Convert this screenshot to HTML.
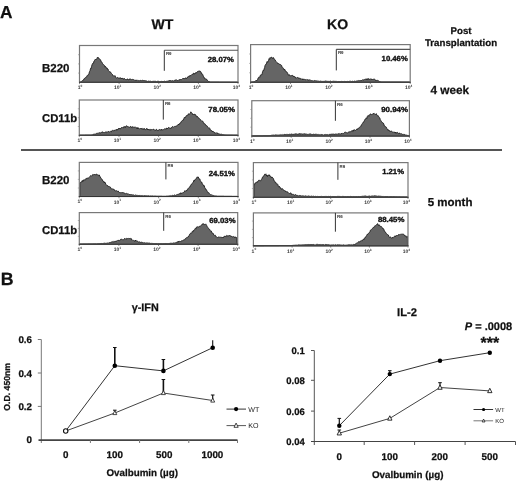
<!DOCTYPE html><html><head><meta charset="utf-8"><style>html,body{margin:0;padding:0;background:#fff;}body{width:520px;height:484px;overflow:hidden;font-family:"Liberation Sans",sans-serif;}svg{display:block;will-change:transform;}text{text-rendering:geometricPrecision;}</style></head><body><svg width="520" height="484" viewBox="0 0 520 484" font-family="Liberation Sans, sans-serif">
<rect width="520" height="484" fill="#fff"/>
<text x="0" y="18.3" font-size="17.3" font-weight="bold" text-anchor="start" fill="#111" stroke="#111" stroke-width="0.25" >A</text>
<text x="162.5" y="29" font-size="14" font-weight="bold" text-anchor="middle" fill="#111" stroke="#111" stroke-width="0.25" >WT</text>
<text x="337.6" y="29" font-size="14" font-weight="bold" text-anchor="middle" fill="#111" stroke="#111" stroke-width="0.25" >KO</text>
<text x="461" y="34.4" font-size="9.7" font-weight="bold" text-anchor="middle" fill="#111" stroke="#111" stroke-width="0.25" >Post</text>
<text x="461" y="46" font-size="9.7" font-weight="bold" text-anchor="middle" fill="#111" stroke="#111" stroke-width="0.25" >Transplantation</text>
<text x="430.4" y="94.2" font-size="11.8" font-weight="bold" text-anchor="start" fill="#111" stroke="#111" stroke-width="0.25" >4 week</text>
<text x="427.7" y="206.2" font-size="11.5" font-weight="bold" text-anchor="start" fill="#111" stroke="#111" stroke-width="0.25" >5 month</text>
<text x="42" y="71.8" font-size="11.5" font-weight="bold" text-anchor="start" fill="#111" stroke="#111" stroke-width="0.25" >B220</text>
<text x="42" y="122" font-size="11.3" font-weight="bold" text-anchor="start" fill="#111" stroke="#111" stroke-width="0.25" >CD11b</text>
<text x="42" y="184" font-size="11.5" font-weight="bold" text-anchor="start" fill="#111" stroke="#111" stroke-width="0.25" >B220</text>
<text x="42" y="234.4" font-size="11.3" font-weight="bold" text-anchor="start" fill="#111" stroke="#111" stroke-width="0.25" >CD11b</text>
<line x1="21" y1="150" x2="502" y2="150" stroke="#555" stroke-width="2"/>
<path d="M80.0,82.3L80.0,82.2L80.5,82.1L81.0,81.9L81.5,81.3L82.0,81.1L82.5,80.7L83.0,80.0L83.5,79.9L84.0,78.7L84.5,78.8L85.0,77.9L85.5,77.4L86.0,77.2L86.5,77.2L87.0,75.8L87.5,75.2L88.0,74.9L88.5,74.8L89.0,73.4L89.5,71.6L90.0,70.9L90.5,68.5L91.0,68.8L91.5,66.6L92.0,64.9L92.5,63.6L93.0,63.1L93.5,63.1L94.0,61.1L94.5,60.5L95.0,59.7L95.5,59.0L96.0,59.8L96.5,59.4L97.0,58.3L97.5,57.1L98.0,57.7L98.5,57.8L99.0,58.2L99.5,59.3L100.0,59.5L100.5,59.7L101.0,61.2L101.5,62.0L102.0,62.2L102.5,63.5L103.0,63.9L103.5,64.9L104.0,65.3L104.5,65.4L105.0,67.1L105.5,66.4L106.0,67.2L106.5,68.2L107.0,67.8L107.5,69.0L108.0,69.0L108.5,70.7L109.0,71.4L109.5,71.6L110.0,72.3L110.5,71.9L111.0,73.0L111.5,73.5L112.0,74.1L112.5,74.5L113.0,75.6L113.5,76.1L114.0,75.6L114.5,76.2L115.0,75.7L115.5,77.1L116.0,77.4L116.5,78.1L117.0,78.0L117.5,77.4L118.0,77.8L118.5,78.4L119.0,77.6L119.5,78.4L120.0,78.0L120.5,77.9L121.0,77.9L121.5,79.0L122.0,78.1L122.5,78.4L123.0,78.6L123.5,79.4L124.0,78.2L124.5,78.8L125.0,79.0L125.5,79.6L126.0,79.6L126.5,79.7L127.0,78.9L127.5,79.1L128.0,79.1L128.5,79.9L129.0,80.0L129.5,78.9L130.0,79.0L130.5,79.1L131.0,79.2L131.5,79.6L132.0,79.8L132.5,79.4L133.0,79.1L133.5,79.7L134.0,79.7L134.5,80.0L135.0,80.5L135.5,80.3L136.0,80.2L136.5,80.3L137.0,80.4L137.5,79.9L138.0,80.7L138.5,80.7L139.0,80.8L139.5,80.7L140.0,80.4L140.5,80.4L141.0,80.2L141.5,80.7L142.0,80.3L142.5,80.3L143.0,80.5L143.5,80.5L144.0,80.7L144.5,80.6L145.0,80.6L145.5,80.8L146.0,80.8L146.5,81.0L147.0,80.9L147.5,81.4L148.0,81.3L148.5,81.1L149.0,81.2L149.5,81.3L150.0,81.3L150.5,81.2L151.0,81.6L151.5,81.6L152.0,81.4L152.5,81.4L153.0,81.2L153.5,81.3L154.0,81.4L154.5,81.3L155.0,81.6L155.5,81.3L156.0,81.3L156.5,81.7L157.0,81.5L157.5,81.3L158.0,81.5L158.5,81.3L159.0,81.5L159.5,81.7L160.0,81.6L160.5,81.6L161.0,81.4L161.5,81.4L162.0,81.3L162.5,81.5L163.0,81.4L163.5,81.5L164.0,81.2L164.5,81.2L165.0,81.5L165.5,81.5L166.0,81.4L166.5,81.3L167.0,81.3L167.5,81.2L168.0,80.8L168.5,80.9L169.0,80.8L169.5,80.5L170.0,80.4L170.5,80.6L171.0,80.6L171.5,80.9L172.0,81.0L172.5,80.6L173.0,80.9L173.5,81.0L174.0,80.9L174.5,80.3L175.0,80.1L175.5,80.0L176.0,80.0L176.5,79.9L177.0,80.3L177.5,80.6L178.0,80.5L178.5,80.0L179.0,80.1L179.5,80.1L180.0,79.1L180.5,79.7L181.0,79.9L181.5,79.6L182.0,79.4L182.5,78.8L183.0,78.2L183.5,79.0L184.0,78.2L184.5,78.7L185.0,78.9L185.5,77.9L186.0,77.8L186.5,78.6L187.0,78.1L187.5,77.0L188.0,76.6L188.5,76.3L189.0,77.1L189.5,76.5L190.0,75.2L190.5,75.8L191.0,75.7L191.5,75.0L192.0,74.3L192.5,74.4L193.0,73.6L193.5,73.2L194.0,74.3L194.5,73.5L195.0,73.0L195.5,73.3L196.0,72.3L196.5,72.8L197.0,72.6L197.5,71.5L198.0,71.3L198.5,71.2L199.0,70.9L199.5,71.2L200.0,70.8L200.5,71.6L201.0,71.9L201.5,73.8L202.0,73.5L202.5,74.2L203.0,75.2L203.5,76.7L204.0,76.9L204.5,78.6L205.0,78.5L205.5,78.8L206.0,79.2L206.5,79.1L207.0,80.2L207.5,80.4L208.0,80.8L208.5,81.5L209.0,81.3L209.5,81.7L210.0,81.9L210.5,82.1L211.0,82.1L211.5,82.1L212.0,82.1L212.5,82.1L213.0,82.1L213.5,82.1L214.0,82.1L214.5,82.1L215.0,82.1L215.5,82.1L216.0,82.1L216.5,82.1L217.0,82.1L217.5,82.1L218.0,82.1L218.5,82.1L219.0,82.2L219.5,82.2L220.0,82.2L220.5,82.2L221.0,82.2L221.5,82.2L222.0,82.2L222.5,82.2L223.0,82.2L223.5,82.2L224.0,82.2L224.5,82.2L225.0,82.2L225.5,82.2L226.0,82.2L226.5,82.2L227.0,82.2L227.5,82.2L228.0,82.2L228.5,82.2L229.0,82.2L229.5,82.2L230.0,82.3L230.5,82.3L231.0,82.3L231.5,82.3L232.0,82.3L232.5,82.3L233.0,82.3L233.5,82.3L234.0,82.3L234.5,82.3L235.0,82.3L235.5,82.3L236.0,82.3L236.5,82.3L237.0,82.3L237.5,82.3L237.5,82.3Z" fill="#656565" stroke="#151515" stroke-width="0.85" stroke-linejoin="round"/>
<rect x="79.5" y="45.5" width="158.5" height="36.8" fill="none" stroke="#787878" stroke-width="1.2"/>
<line x1="79.0" y1="82.3" x2="238.5" y2="82.3" stroke="#333" stroke-width="1.1"/>
<line x1="78.0" y1="73.1" x2="79.5" y2="73.1" stroke="#888" stroke-width="0.6"/>
<line x1="78.0" y1="63.9" x2="79.5" y2="63.9" stroke="#888" stroke-width="0.6"/>
<line x1="78.0" y1="54.7" x2="79.5" y2="54.7" stroke="#888" stroke-width="0.6"/>
<line x1="79.5" y1="82.3" x2="79.5" y2="84.1" stroke="#444" stroke-width="0.6"/>
<text x="77.7" y="89.1" font-size="5" font-weight="bold" fill="#3a3a3a">1<tspan font-size="3.2" dy="-2.2">0</tspan></text>
<line x1="119.1" y1="82.3" x2="119.1" y2="84.1" stroke="#444" stroke-width="0.6"/>
<text x="113.9" y="89.3" font-size="5" font-weight="bold" fill="#3a3a3a">10<tspan font-size="3.2" dy="-2.2">1</tspan></text>
<line x1="158.8" y1="82.3" x2="158.8" y2="84.1" stroke="#444" stroke-width="0.6"/>
<text x="153.6" y="89.3" font-size="5" font-weight="bold" fill="#3a3a3a">10<tspan font-size="3.2" dy="-2.2">2</tspan></text>
<line x1="198.4" y1="82.3" x2="198.4" y2="84.1" stroke="#444" stroke-width="0.6"/>
<text x="193.2" y="89.3" font-size="5" font-weight="bold" fill="#3a3a3a">10<tspan font-size="3.2" dy="-2.2">3</tspan></text>
<line x1="238.0" y1="82.3" x2="238.0" y2="84.1" stroke="#444" stroke-width="0.6"/>
<text x="232.8" y="89.3" font-size="5" font-weight="bold" fill="#3a3a3a">10<tspan font-size="3.2" dy="-2.2">4</tspan></text>
<line x1="164.3" y1="50.3" x2="238" y2="50.3" stroke="#555" stroke-width="1.1"/>
<line x1="164.3" y1="70.8" x2="164.3" y2="50.3" stroke="#333" stroke-width="1"/>
<text x="165.9" y="55.3" font-size="4.4" font-weight="bold" fill="#333">R9</text>
<text x="234" y="62.1" font-size="7.4" font-weight="bold" fill="#111" stroke="#111" stroke-width="0.35" text-anchor="end" textLength="26.3" lengthAdjust="spacingAndGlyphs">28.07%</text>
<path d="M251.1,82.2L251.1,82.1L251.6,82.0L252.1,82.0L252.6,81.9L253.1,81.9L253.6,81.8L254.1,81.6L254.6,81.6L255.1,81.5L255.6,81.0L256.1,80.1L256.6,80.6L257.1,80.1L257.6,79.9L258.1,77.9L258.6,77.6L259.1,76.9L259.6,77.4L260.1,75.9L260.6,74.9L261.1,74.7L261.6,75.0L262.1,73.9L262.6,71.7L263.1,70.3L263.6,70.7L264.1,69.0L264.6,67.6L265.1,65.3L265.6,64.5L266.1,64.5L266.6,63.0L267.1,61.6L267.6,62.3L268.1,61.0L268.6,60.3L269.1,58.6L269.6,59.4L270.1,57.6L270.6,58.2L271.1,57.2L271.6,57.1L272.1,57.6L272.6,58.5L273.1,57.7L273.6,57.7L274.1,59.1L274.6,59.3L275.1,59.9L275.6,61.0L276.1,61.4L276.6,61.9L277.1,62.6L277.6,63.0L278.1,63.9L278.6,63.5L279.1,64.2L279.6,64.1L280.1,64.8L280.6,64.6L281.1,65.2L281.6,65.4L282.1,67.2L282.6,67.7L283.1,67.8L283.6,68.6L284.1,69.7L284.6,69.0L285.1,70.7L285.6,70.7L286.1,71.3L286.6,72.2L287.1,72.2L287.6,73.2L288.1,74.4L288.6,75.3L289.1,74.5L289.6,75.6L290.1,75.7L290.6,75.7L291.1,75.5L291.6,75.6L292.1,75.3L292.6,75.5L293.1,75.7L293.6,77.0L294.1,76.5L294.6,76.7L295.1,76.8L295.6,78.0L296.1,78.1L296.6,77.9L297.1,77.4L297.6,77.5L298.1,77.7L298.6,78.1L299.1,77.8L299.6,78.3L300.1,78.1L300.6,79.2L301.1,79.4L301.6,78.9L302.1,78.6L302.6,79.9L303.1,79.1L303.6,79.3L304.1,78.9L304.6,79.5L305.1,79.6L305.6,79.7L306.1,79.4L306.6,79.9L307.1,79.4L307.6,79.8L308.1,79.7L308.6,80.1L309.1,79.8L309.6,79.9L310.1,80.2L310.6,80.2L311.1,80.6L311.6,80.6L312.1,80.8L312.6,80.7L313.1,80.8L313.6,81.0L314.1,80.6L314.6,80.6L315.1,81.1L315.6,80.6L316.1,81.0L316.6,81.0L317.1,80.6L317.6,81.2L318.1,81.2L318.6,81.1L319.1,81.2L319.6,81.3L320.1,80.9L320.6,81.2L321.1,81.2L321.6,81.4L322.1,81.4L322.6,81.4L323.1,81.3L323.6,81.4L324.1,81.3L324.6,81.3L325.1,81.1L325.6,81.0L326.1,81.1L326.6,81.2L327.1,81.1L327.6,81.4L328.1,81.3L328.6,81.4L329.1,81.4L329.6,81.4L330.1,81.3L330.6,81.1L331.1,81.5L331.6,81.5L332.1,81.4L332.6,81.4L333.1,81.5L333.6,81.2L334.1,81.5L334.6,81.3L335.1,81.3L335.6,81.4L336.1,81.5L336.6,81.4L337.1,81.6L337.6,81.7L338.1,81.5L338.6,81.5L339.1,81.5L339.6,81.6L340.1,81.6L340.6,81.6L341.1,81.6L341.6,81.4L342.1,81.5L342.6,81.5L343.1,81.7L343.6,81.5L344.1,81.6L344.6,81.4L345.1,81.5L345.6,81.5L346.1,81.6L346.6,81.6L347.1,81.6L347.6,81.4L348.1,81.5L348.6,81.5L349.1,81.4L349.6,81.3L350.1,81.6L350.6,81.2L351.1,81.5L351.6,81.5L352.1,81.1L352.6,81.3L353.1,81.4L353.6,81.5L354.1,81.2L354.6,81.1L355.1,81.0L355.6,81.4L356.1,80.9L356.6,81.1L357.1,80.8L357.6,80.9L358.1,81.1L358.6,80.5L359.1,80.9L359.6,80.6L360.1,80.8L360.6,80.6L361.1,80.1L361.6,80.7L362.1,80.3L362.6,79.7L363.1,79.6L363.6,80.0L364.1,79.8L364.6,79.4L365.1,79.1L365.6,79.2L366.1,79.1L366.6,79.8L367.1,78.5L367.6,79.6L368.1,79.6L368.6,78.5L369.1,79.6L369.6,79.4L370.1,79.7L370.6,78.8L371.1,79.0L371.6,79.0L372.1,80.0L372.6,79.4L373.1,79.1L373.6,79.3L374.1,79.3L374.6,79.2L375.1,79.5L375.6,80.5L376.1,80.1L376.6,80.8L377.1,80.3L377.6,80.4L378.1,80.8L378.6,80.8L379.1,81.1L379.6,81.6L380.1,81.7L380.6,81.8L381.1,81.9L381.6,82.0L382.1,82.0L382.6,82.0L383.1,82.0L383.6,82.0L384.1,82.0L384.6,82.0L385.1,82.0L385.6,82.0L386.1,82.0L386.6,82.0L387.1,82.0L387.6,82.0L388.1,82.0L388.6,82.0L389.1,82.0L389.6,82.0L390.1,82.1L390.6,82.1L391.1,82.1L391.6,82.1L392.1,82.1L392.6,82.1L393.1,82.1L393.6,82.1L394.1,82.1L394.6,82.1L395.1,82.1L395.6,82.1L396.1,82.1L396.6,82.1L397.1,82.1L397.6,82.1L398.1,82.1L398.6,82.1L399.1,82.1L399.6,82.1L400.1,82.1L400.6,82.1L401.1,82.1L401.6,82.2L402.1,82.2L402.6,82.2L403.1,82.2L403.6,82.2L404.1,82.2L404.6,82.2L405.1,82.2L405.6,82.2L406.1,82.2L406.6,82.2L407.1,82.2L407.6,82.2L408.1,82.2L408.6,82.2L409.1,82.2L409.6,82.2L409.7,82.2Z" fill="#656565" stroke="#151515" stroke-width="0.85" stroke-linejoin="round"/>
<rect x="250.6" y="44.6" width="159.6" height="37.6" fill="none" stroke="#787878" stroke-width="1.2"/>
<line x1="250.1" y1="82.2" x2="410.7" y2="82.2" stroke="#333" stroke-width="1.1"/>
<line x1="249.1" y1="72.8" x2="250.6" y2="72.8" stroke="#888" stroke-width="0.6"/>
<line x1="249.1" y1="63.4" x2="250.6" y2="63.4" stroke="#888" stroke-width="0.6"/>
<line x1="249.1" y1="54.0" x2="250.6" y2="54.0" stroke="#888" stroke-width="0.6"/>
<line x1="250.6" y1="82.2" x2="250.6" y2="84.0" stroke="#444" stroke-width="0.6"/>
<text x="248.8" y="89.0" font-size="5" font-weight="bold" fill="#3a3a3a">1<tspan font-size="3.2" dy="-2.2">0</tspan></text>
<line x1="290.5" y1="82.2" x2="290.5" y2="84.0" stroke="#444" stroke-width="0.6"/>
<text x="285.3" y="89.2" font-size="5" font-weight="bold" fill="#3a3a3a">10<tspan font-size="3.2" dy="-2.2">1</tspan></text>
<line x1="330.4" y1="82.2" x2="330.4" y2="84.0" stroke="#444" stroke-width="0.6"/>
<text x="325.2" y="89.2" font-size="5" font-weight="bold" fill="#3a3a3a">10<tspan font-size="3.2" dy="-2.2">2</tspan></text>
<line x1="370.3" y1="82.2" x2="370.3" y2="84.0" stroke="#444" stroke-width="0.6"/>
<text x="365.1" y="89.2" font-size="5" font-weight="bold" fill="#3a3a3a">10<tspan font-size="3.2" dy="-2.2">3</tspan></text>
<line x1="410.2" y1="82.2" x2="410.2" y2="84.0" stroke="#444" stroke-width="0.6"/>
<text x="405.0" y="89.2" font-size="5" font-weight="bold" fill="#3a3a3a">10<tspan font-size="3.2" dy="-2.2">4</tspan></text>
<line x1="336.3" y1="49.4" x2="410.2" y2="49.4" stroke="#555" stroke-width="1.1"/>
<line x1="336.3" y1="70.4" x2="336.3" y2="49.4" stroke="#333" stroke-width="1"/>
<text x="337.9" y="54.4" font-size="4.4" font-weight="bold" fill="#333">R9</text>
<text x="407.8" y="61.4" font-size="7.4" font-weight="bold" fill="#111" stroke="#111" stroke-width="0.35" text-anchor="end" textLength="26.2" lengthAdjust="spacingAndGlyphs">10.46%</text>
<path d="M79.8,135.3L79.8,135.3L80.3,135.3L80.8,135.3L81.3,135.3L81.8,135.3L82.3,135.3L82.8,135.3L83.3,135.3L83.8,135.3L84.3,135.3L84.8,135.3L85.3,135.2L85.8,135.2L86.3,135.2L86.8,135.2L87.3,135.2L87.8,135.2L88.3,135.2L88.8,135.2L89.3,135.2L89.8,135.2L90.3,135.2L90.8,135.2L91.3,135.1L91.8,135.0L92.3,134.9L92.8,134.7L93.3,134.5L93.8,134.1L94.3,134.3L94.8,133.8L95.3,134.2L95.8,133.9L96.3,133.6L96.8,133.2L97.3,133.2L97.8,133.4L98.3,133.4L98.8,132.7L99.3,132.6L99.8,133.0L100.3,133.0L100.8,132.6L101.3,132.3L101.8,132.7L102.3,131.8L102.8,132.1L103.3,132.3L103.8,133.0L104.3,132.5L104.8,132.8L105.3,132.2L105.8,131.8L106.3,131.7L106.8,132.7L107.3,132.3L107.8,131.7L108.3,131.2L108.8,131.9L109.3,132.1L109.8,131.6L110.3,131.2L110.8,131.7L111.3,131.9L111.8,130.7L112.3,130.3L112.8,130.7L113.3,130.7L113.8,130.9L114.3,129.9L114.8,130.6L115.3,130.3L115.8,129.8L116.3,129.3L116.8,130.3L117.3,129.2L117.8,129.7L118.3,128.6L118.8,128.4L119.3,129.0L119.8,128.2L120.3,129.1L120.8,128.3L121.3,127.6L121.8,127.5L122.3,127.5L122.8,127.7L123.3,127.9L123.8,126.6L124.3,126.9L124.8,126.5L125.3,127.6L125.8,126.2L126.3,125.9L126.8,125.8L127.3,126.2L127.8,126.9L128.3,126.9L128.8,126.8L129.3,127.2L129.8,127.3L130.3,126.5L130.8,126.4L131.3,127.6L131.8,127.5L132.3,126.5L132.8,127.6L133.3,127.2L133.8,127.3L134.3,127.3L134.8,127.1L135.3,126.9L135.8,127.4L136.3,127.6L136.8,128.6L137.3,127.5L137.8,128.9L138.3,127.8L138.8,128.2L139.3,128.9L139.8,129.0L140.3,128.5L140.8,128.0L141.3,128.6L141.8,128.5L142.3,129.4L142.8,128.4L143.3,128.7L143.8,129.6L144.3,128.4L144.8,129.0L145.3,129.7L145.8,129.7L146.3,128.6L146.8,128.6L147.3,128.7L147.8,130.0L148.3,129.1L148.8,129.8L149.3,130.1L149.8,129.3L150.3,129.3L150.8,130.3L151.3,129.8L151.8,129.3L152.3,130.0L152.8,129.5L153.3,129.4L153.8,129.0L154.3,130.2L154.8,130.5L155.3,130.1L155.8,130.6L156.3,129.2L156.8,129.6L157.3,130.0L157.8,130.7L158.3,130.6L158.8,129.7L159.3,129.5L159.8,129.7L160.3,129.7L160.8,130.3L161.3,129.1L161.8,129.9L162.3,129.8L162.8,129.8L163.3,129.7L163.8,129.4L164.3,128.9L164.8,128.8L165.3,128.8L165.8,129.3L166.3,128.1L166.8,128.1L167.3,128.8L167.8,128.0L168.3,127.6L168.8,127.5L169.3,128.2L169.8,127.7L170.3,128.6L170.8,128.3L171.3,128.3L171.8,127.1L172.3,126.7L172.8,126.5L173.3,127.0L173.8,127.2L174.3,126.7L174.8,126.3L175.3,126.3L175.8,126.3L176.3,126.0L176.8,125.8L177.3,125.7L177.8,125.1L178.3,124.1L178.8,124.9L179.3,123.7L179.8,123.6L180.3,122.7L180.8,122.7L181.3,121.4L181.8,121.1L182.3,120.7L182.8,120.0L183.3,120.2L183.8,118.8L184.3,117.6L184.8,117.0L185.3,117.6L185.8,116.5L186.3,115.6L186.8,115.9L187.3,115.2L187.8,115.4L188.3,113.8L188.8,114.0L189.3,114.1L189.8,113.7L190.3,113.4L190.8,111.8L191.3,112.5L191.8,112.8L192.3,113.4L192.8,114.8L193.3,114.2L193.8,114.7L194.3,113.9L194.8,114.8L195.3,114.6L195.8,114.9L196.3,116.3L196.8,117.1L197.3,116.3L197.8,117.3L198.3,117.8L198.8,117.8L199.3,118.7L199.8,118.9L200.3,119.4L200.8,119.8L201.3,120.8L201.8,121.4L202.3,121.1L202.8,121.2L203.3,122.2L203.8,123.5L204.3,123.4L204.8,124.1L205.3,124.2L205.8,125.5L206.3,125.7L206.8,125.6L207.3,126.2L207.8,127.2L208.3,127.8L208.8,128.2L209.3,127.8L209.8,128.5L210.3,130.0L210.8,130.1L211.3,130.4L211.8,130.6L212.3,131.8L212.8,131.1L213.3,131.8L213.8,131.8L214.3,132.2L214.8,133.1L215.3,133.4L215.8,132.7L216.3,132.7L216.8,133.4L217.3,133.1L217.8,133.1L218.3,134.0L218.8,133.8L219.3,134.1L219.8,133.9L220.3,134.3L220.8,134.2L221.3,134.2L221.8,134.3L222.3,134.6L222.8,134.7L223.3,134.8L223.8,134.7L224.3,134.9L224.8,134.9L225.3,135.0L225.8,135.1L226.3,135.1L226.8,135.2L227.3,135.2L227.8,135.2L228.3,135.2L228.8,135.2L229.3,135.2L229.8,135.2L230.3,135.2L230.8,135.2L231.3,135.2L231.8,135.2L232.3,135.2L232.8,135.3L233.3,135.3L233.8,135.3L234.3,135.3L234.8,135.3L235.3,135.3L235.8,135.3L236.3,135.3L236.8,135.3L237.3,135.3L237.5,135.3Z" fill="#656565" stroke="#151515" stroke-width="0.85" stroke-linejoin="round"/>
<rect x="79.3" y="100" width="158.7" height="35.30000000000001" fill="none" stroke="#787878" stroke-width="1.2"/>
<line x1="78.8" y1="135.3" x2="238.5" y2="135.3" stroke="#333" stroke-width="1.1"/>
<line x1="77.8" y1="126.5" x2="79.3" y2="126.5" stroke="#888" stroke-width="0.6"/>
<line x1="77.8" y1="117.7" x2="79.3" y2="117.7" stroke="#888" stroke-width="0.6"/>
<line x1="77.8" y1="108.8" x2="79.3" y2="108.8" stroke="#888" stroke-width="0.6"/>
<line x1="79.3" y1="135.3" x2="79.3" y2="137.10000000000002" stroke="#444" stroke-width="0.6"/>
<text x="77.5" y="142.1" font-size="5" font-weight="bold" fill="#3a3a3a">1<tspan font-size="3.2" dy="-2.2">0</tspan></text>
<line x1="119.0" y1="135.3" x2="119.0" y2="137.10000000000002" stroke="#444" stroke-width="0.6"/>
<text x="113.8" y="142.3" font-size="5" font-weight="bold" fill="#3a3a3a">10<tspan font-size="3.2" dy="-2.2">1</tspan></text>
<line x1="158.6" y1="135.3" x2="158.6" y2="137.10000000000002" stroke="#444" stroke-width="0.6"/>
<text x="153.4" y="142.3" font-size="5" font-weight="bold" fill="#3a3a3a">10<tspan font-size="3.2" dy="-2.2">2</tspan></text>
<line x1="198.3" y1="135.3" x2="198.3" y2="137.10000000000002" stroke="#444" stroke-width="0.6"/>
<text x="193.1" y="142.3" font-size="5" font-weight="bold" fill="#3a3a3a">10<tspan font-size="3.2" dy="-2.2">3</tspan></text>
<line x1="238.0" y1="135.3" x2="238.0" y2="137.10000000000002" stroke="#444" stroke-width="0.6"/>
<text x="232.8" y="142.3" font-size="5" font-weight="bold" fill="#3a3a3a">10<tspan font-size="3.2" dy="-2.2">4</tspan></text>
<line x1="163.3" y1="119.6" x2="163.3" y2="100" stroke="#333" stroke-width="1"/>
<text x="164.9" y="105.0" font-size="4.4" font-weight="bold" fill="#333">R6</text>
<text x="235" y="112" font-size="7.4" font-weight="bold" fill="#111" stroke="#111" stroke-width="0.35" text-anchor="end" textLength="26.7" lengthAdjust="spacingAndGlyphs">78.05%</text>
<path d="M252.3,136.0L252.3,136.0L252.8,136.0L253.3,136.0L253.8,136.0L254.3,136.0L254.8,136.0L255.3,136.0L255.8,136.0L256.3,136.0L256.8,135.9L257.3,135.9L257.8,135.9L258.3,135.9L258.8,135.9L259.3,135.9L259.8,135.9L260.3,135.9L260.8,135.9L261.3,135.9L261.8,135.9L262.3,135.9L262.8,135.9L263.3,135.8L263.8,135.8L264.3,135.8L264.8,135.8L265.3,135.8L265.8,135.8L266.3,135.8L266.8,135.8L267.3,135.8L267.8,135.8L268.3,135.8L268.8,135.7L269.3,135.7L269.8,135.6L270.3,135.5L270.8,135.5L271.3,135.3L271.8,135.3L272.3,135.3L272.8,135.0L273.3,135.2L273.8,134.9L274.3,135.2L274.8,135.1L275.3,135.0L275.8,134.8L276.3,135.0L276.8,134.9L277.3,135.2L277.8,134.7L278.3,135.1L278.8,135.2L279.3,135.0L279.8,135.0L280.3,134.6L280.8,135.1L281.3,134.8L281.8,135.0L282.3,135.0L282.8,134.5L283.3,134.9L283.8,134.9L284.3,134.3L284.8,134.5L285.3,134.7L285.8,134.3L286.3,134.8L286.8,134.3L287.3,134.7L287.8,134.2L288.3,134.4L288.8,134.8L289.3,134.2L289.8,134.2L290.3,134.4L290.8,134.2L291.3,134.0L291.8,134.1L292.3,134.0L292.8,134.6L293.3,134.4L293.8,134.5L294.3,133.8L294.8,134.4L295.3,133.7L295.8,134.1L296.3,134.1L296.8,133.8L297.3,134.3L297.8,134.0L298.3,134.0L298.8,134.3L299.3,133.4L299.8,134.3L300.3,134.0L300.8,133.7L301.3,134.2L301.8,133.6L302.3,134.4L302.8,134.0L303.3,133.8L303.8,134.2L304.3,133.9L304.8,133.7L305.3,134.3L305.8,133.7L306.3,134.4L306.8,133.9L307.3,134.3L307.8,134.6L308.3,134.3L308.8,134.4L309.3,134.1L309.8,133.9L310.3,133.9L310.8,134.0L311.3,134.4L311.8,134.3L312.3,134.4L312.8,134.7L313.3,134.1L313.8,134.2L314.3,134.6L314.8,134.1L315.3,134.1L315.8,134.4L316.3,134.2L316.8,134.5L317.3,134.4L317.8,134.7L318.3,134.7L318.8,134.4L319.3,134.8L319.8,134.7L320.3,134.5L320.8,135.0L321.3,134.6L321.8,134.5L322.3,134.5L322.8,134.9L323.3,135.0L323.8,135.0L324.3,134.7L324.8,134.6L325.3,134.4L325.8,134.8L326.3,134.7L326.8,134.6L327.3,134.7L327.8,134.6L328.3,134.9L328.8,134.7L329.3,134.3L329.8,134.8L330.3,134.1L330.8,134.4L331.3,134.3L331.8,134.1L332.3,133.9L332.8,134.5L333.3,133.8L333.8,134.3L334.3,134.6L334.8,133.9L335.3,133.9L335.8,134.3L336.3,134.1L336.8,134.2L337.3,134.4L337.8,133.7L338.3,133.8L338.8,133.8L339.3,133.5L339.8,134.3L340.3,134.2L340.8,134.0L341.3,133.2L341.8,134.0L342.3,133.8L342.8,133.3L343.3,133.6L343.8,133.1L344.3,132.6L344.8,132.3L345.3,132.4L345.8,132.0L346.3,132.4L346.8,133.0L347.3,132.8L347.8,132.9L348.3,132.6L348.8,131.7L349.3,132.0L349.8,131.6L350.3,132.0L350.8,131.4L351.3,130.8L351.8,131.2L352.3,131.5L352.8,130.3L353.3,131.2L353.8,129.8L354.3,130.0L354.8,129.8L355.3,130.3L355.8,130.3L356.3,129.8L356.8,128.9L357.3,129.6L357.8,128.6L358.3,128.0L358.8,128.4L359.3,127.4L359.8,127.0L360.3,126.7L360.8,126.5L361.3,124.9L361.8,124.5L362.3,123.5L362.8,123.1L363.3,122.1L363.8,121.8L364.3,120.8L364.8,119.7L365.3,118.9L365.8,119.1L366.3,117.8L366.8,118.4L367.3,116.5L367.8,115.7L368.3,115.4L368.8,116.4L369.3,115.2L369.8,114.5L370.3,114.0L370.8,113.8L371.3,114.7L371.8,114.5L372.3,114.4L372.8,114.4L373.3,113.2L373.8,113.9L374.3,113.5L374.8,114.3L375.3,114.4L375.8,114.7L376.3,113.6L376.8,114.9L377.3,115.3L377.8,116.1L378.3,115.8L378.8,116.9L379.3,117.5L379.8,117.9L380.3,119.7L380.8,120.5L381.3,121.2L381.8,122.3L382.3,122.6L382.8,122.6L383.3,123.1L383.8,124.0L384.3,125.9L384.8,125.8L385.3,126.4L385.8,127.1L386.3,127.2L386.8,128.4L387.3,129.1L387.8,130.2L388.3,129.8L388.8,130.0L389.3,131.1L389.8,130.7L390.3,131.5L390.8,131.4L391.3,130.8L391.8,131.6L392.3,131.8L392.8,132.3L393.3,131.8L393.8,132.4L394.3,132.3L394.8,132.0L395.3,133.1L395.8,132.1L396.3,133.3L396.8,132.5L397.3,132.3L397.8,132.8L398.3,133.6L398.8,134.0L399.3,132.8L399.8,133.5L400.3,133.6L400.8,134.1L401.3,133.6L401.8,134.1L402.3,134.1L402.8,134.6L403.3,134.3L403.8,134.9L404.3,134.5L404.8,134.5L405.3,135.0L405.8,135.0L406.3,135.0L406.8,135.3L407.3,135.3L407.8,135.6L408.3,135.7L408.8,135.8L408.9,136.0Z" fill="#656565" stroke="#151515" stroke-width="0.85" stroke-linejoin="round"/>
<rect x="251.8" y="100.7" width="157.59999999999997" height="35.3" fill="none" stroke="#787878" stroke-width="1.2"/>
<line x1="251.3" y1="136" x2="409.9" y2="136" stroke="#333" stroke-width="1.1"/>
<line x1="250.3" y1="127.2" x2="251.8" y2="127.2" stroke="#888" stroke-width="0.6"/>
<line x1="250.3" y1="118.3" x2="251.8" y2="118.3" stroke="#888" stroke-width="0.6"/>
<line x1="250.3" y1="109.5" x2="251.8" y2="109.5" stroke="#888" stroke-width="0.6"/>
<line x1="251.8" y1="136" x2="251.8" y2="137.8" stroke="#444" stroke-width="0.6"/>
<text x="250.0" y="142.8" font-size="5" font-weight="bold" fill="#3a3a3a">1<tspan font-size="3.2" dy="-2.2">0</tspan></text>
<line x1="291.2" y1="136" x2="291.2" y2="137.8" stroke="#444" stroke-width="0.6"/>
<text x="286.0" y="143.0" font-size="5" font-weight="bold" fill="#3a3a3a">10<tspan font-size="3.2" dy="-2.2">1</tspan></text>
<line x1="330.6" y1="136" x2="330.6" y2="137.8" stroke="#444" stroke-width="0.6"/>
<text x="325.4" y="143.0" font-size="5" font-weight="bold" fill="#3a3a3a">10<tspan font-size="3.2" dy="-2.2">2</tspan></text>
<line x1="370.0" y1="136" x2="370.0" y2="137.8" stroke="#444" stroke-width="0.6"/>
<text x="364.8" y="143.0" font-size="5" font-weight="bold" fill="#3a3a3a">10<tspan font-size="3.2" dy="-2.2">3</tspan></text>
<line x1="409.4" y1="136" x2="409.4" y2="137.8" stroke="#444" stroke-width="0.6"/>
<text x="404.2" y="143.0" font-size="5" font-weight="bold" fill="#3a3a3a">10<tspan font-size="3.2" dy="-2.2">4</tspan></text>
<line x1="335.4" y1="120.8" x2="335.4" y2="100.7" stroke="#333" stroke-width="1"/>
<text x="337.0" y="105.7" font-size="4.4" font-weight="bold" fill="#333">R6</text>
<text x="408" y="111.6" font-size="7.4" font-weight="bold" fill="#111" stroke="#111" stroke-width="0.35" text-anchor="end" textLength="26.8" lengthAdjust="spacingAndGlyphs">90.94%</text>
<path d="M79.8,196.5L79.8,183.1L80.3,182.5L80.8,182.2L81.3,181.8L81.8,182.1L82.3,180.5L82.8,181.5L83.3,180.0L83.8,180.0L84.3,179.7L84.8,180.3L85.3,179.3L85.8,178.7L86.3,179.2L86.8,178.1L87.3,178.2L87.8,178.0L88.3,178.0L88.8,177.7L89.3,177.3L89.8,176.6L90.3,176.2L90.8,175.5L91.3,176.2L91.8,175.7L92.3,175.6L92.8,174.4L93.3,174.5L93.8,175.0L94.3,174.7L94.8,174.0L95.3,174.5L95.8,175.2L96.3,174.2L96.8,174.2L97.3,174.5L97.8,175.3L98.3,175.7L98.8,174.8L99.3,175.0L99.8,176.2L100.3,176.9L100.8,178.0L101.3,178.4L101.8,179.5L102.3,179.6L102.8,181.2L103.3,181.4L103.8,181.1L104.3,183.0L104.8,182.1L105.3,182.8L105.8,184.3L106.3,184.7L106.8,185.3L107.3,185.5L107.8,185.6L108.3,186.5L108.8,186.0L109.3,186.5L109.8,187.2L110.3,187.0L110.8,187.9L111.3,188.8L111.8,188.9L112.3,188.8L112.8,189.2L113.3,189.2L113.8,189.1L114.3,190.1L114.8,190.1L115.3,190.8L115.8,191.2L116.3,190.6L116.8,190.9L117.3,191.4L117.8,191.1L118.3,191.1L118.8,192.0L119.3,192.5L119.8,192.5L120.3,192.5L120.8,192.8L121.3,192.6L121.8,192.7L122.3,192.6L122.8,192.5L123.3,193.2L123.8,192.5L124.3,193.1L124.8,193.8L125.3,193.7L125.8,193.7L126.3,193.2L126.8,193.5L127.3,193.7L127.8,194.0L128.3,193.8L128.8,194.3L129.3,194.7L129.8,194.0L130.3,194.6L130.8,194.8L131.3,194.6L131.8,194.8L132.3,195.3L132.8,194.6L133.3,195.1L133.8,194.9L134.3,195.3L134.8,195.4L135.3,195.2L135.8,194.9L136.3,195.3L136.8,195.3L137.3,195.4L137.8,195.4L138.3,195.5L138.8,195.6L139.3,195.5L139.8,195.5L140.3,195.8L140.8,195.5L141.3,195.7L141.8,195.6L142.3,195.8L142.8,195.6L143.3,195.9L143.8,195.7L144.3,195.6L144.8,195.7L145.3,195.8L145.8,195.7L146.3,195.8L146.8,195.8L147.3,195.9L147.8,195.8L148.3,195.8L148.8,195.8L149.3,196.0L149.8,196.0L150.3,195.9L150.8,195.9L151.3,196.0L151.8,195.9L152.3,195.9L152.8,195.9L153.3,196.1L153.8,196.1L154.3,196.1L154.8,196.0L155.3,196.1L155.8,196.0L156.3,196.2L156.8,196.1L157.3,196.2L157.8,196.2L158.3,196.2L158.8,196.2L159.3,196.2L159.8,196.2L160.3,196.2L160.8,196.2L161.3,196.2L161.8,196.2L162.3,196.3L162.8,196.3L163.3,196.3L163.8,196.3L164.3,196.3L164.8,196.3L165.3,196.3L165.8,196.3L166.3,196.2L166.8,196.1L167.3,196.1L167.8,196.1L168.3,196.0L168.8,196.0L169.3,195.8L169.8,196.0L170.3,195.9L170.8,195.5L171.3,195.8L171.8,195.8L172.3,195.6L172.8,195.2L173.3,195.6L173.8,195.4L174.3,195.0L174.8,194.9L175.3,195.5L175.8,195.2L176.3,194.9L176.8,194.7L177.3,194.6L177.8,194.4L178.3,194.7L178.8,193.9L179.3,193.4L179.8,194.2L180.3,193.8L180.8,192.7L181.3,193.6L181.8,193.0L182.3,193.1L182.8,192.6L183.3,192.6L183.8,192.2L184.3,191.9L184.8,190.7L185.3,191.2L185.8,190.8L186.3,190.9L186.8,190.0L187.3,190.1L187.8,189.1L188.3,188.2L188.8,187.7L189.3,187.3L189.8,187.2L190.3,185.7L190.8,185.4L191.3,184.2L191.8,184.2L192.3,183.4L192.8,182.5L193.3,182.2L193.8,180.5L194.3,181.1L194.8,179.8L195.3,179.3L195.8,178.9L196.3,178.8L196.8,177.4L197.3,176.8L197.8,177.6L198.3,176.9L198.8,178.5L199.3,179.0L199.8,178.8L200.3,180.5L200.8,181.5L201.3,182.3L201.8,182.1L202.3,184.1L202.8,184.3L203.3,184.9L203.8,186.1L204.3,185.7L204.8,187.8L205.3,188.6L205.8,188.8L206.3,190.1L206.8,190.3L207.3,191.4L207.8,192.2L208.3,193.0L208.8,192.6L209.3,193.4L209.8,193.9L210.3,194.5L210.8,194.9L211.3,194.6L211.8,195.2L212.3,195.2L212.8,195.4L213.3,195.5L213.8,195.6L214.3,195.9L214.8,195.8L215.3,195.9L215.8,195.9L216.3,196.0L216.8,196.0L217.3,196.2L217.8,196.2L218.3,196.2L218.8,196.2L219.3,196.2L219.8,196.2L220.3,196.2L220.8,196.2L221.3,196.2L221.8,196.2L222.3,196.2L222.8,196.2L223.3,196.2L223.8,196.2L224.3,196.3L224.8,196.3L225.3,196.3L225.8,196.3L226.3,196.3L226.8,196.3L227.3,196.3L227.8,196.3L228.3,196.3L228.8,196.3L229.3,196.3L229.8,196.3L230.3,196.3L230.8,196.3L231.3,196.3L231.8,196.3L232.3,196.4L232.8,196.4L233.3,196.4L233.8,196.4L234.3,196.4L234.8,196.4L235.3,196.4L235.8,196.4L236.3,196.4L236.8,196.4L237.3,196.4L237.5,196.5Z" fill="#656565" stroke="#151515" stroke-width="0.85" stroke-linejoin="round"/>
<rect x="79.3" y="162.4" width="158.7" height="34.099999999999994" fill="none" stroke="#787878" stroke-width="1.2"/>
<line x1="78.8" y1="196.5" x2="238.5" y2="196.5" stroke="#333" stroke-width="1.1"/>
<line x1="77.8" y1="188.0" x2="79.3" y2="188.0" stroke="#888" stroke-width="0.6"/>
<line x1="77.8" y1="179.4" x2="79.3" y2="179.4" stroke="#888" stroke-width="0.6"/>
<line x1="77.8" y1="170.9" x2="79.3" y2="170.9" stroke="#888" stroke-width="0.6"/>
<line x1="79.3" y1="196.5" x2="79.3" y2="198.3" stroke="#444" stroke-width="0.6"/>
<text x="77.5" y="203.3" font-size="5" font-weight="bold" fill="#3a3a3a">1<tspan font-size="3.2" dy="-2.2">0</tspan></text>
<line x1="119.0" y1="196.5" x2="119.0" y2="198.3" stroke="#444" stroke-width="0.6"/>
<text x="113.8" y="203.5" font-size="5" font-weight="bold" fill="#3a3a3a">10<tspan font-size="3.2" dy="-2.2">1</tspan></text>
<line x1="158.6" y1="196.5" x2="158.6" y2="198.3" stroke="#444" stroke-width="0.6"/>
<text x="153.4" y="203.5" font-size="5" font-weight="bold" fill="#3a3a3a">10<tspan font-size="3.2" dy="-2.2">2</tspan></text>
<line x1="198.3" y1="196.5" x2="198.3" y2="198.3" stroke="#444" stroke-width="0.6"/>
<text x="193.1" y="203.5" font-size="5" font-weight="bold" fill="#3a3a3a">10<tspan font-size="3.2" dy="-2.2">3</tspan></text>
<line x1="238.0" y1="196.5" x2="238.0" y2="198.3" stroke="#444" stroke-width="0.6"/>
<text x="232.8" y="203.5" font-size="5" font-weight="bold" fill="#3a3a3a">10<tspan font-size="3.2" dy="-2.2">4</tspan></text>
<line x1="165.9" y1="179.4" x2="165.9" y2="162.4" stroke="#333" stroke-width="1"/>
<text x="167.5" y="167.4" font-size="4.4" font-weight="bold" fill="#333">R9</text>
<text x="235" y="176.1" font-size="7.4" font-weight="bold" fill="#111" stroke="#111" stroke-width="0.35" text-anchor="end" textLength="26.3" lengthAdjust="spacingAndGlyphs">24.51%</text>
<path d="M253.9,197.2L253.9,185.5L254.4,185.4L254.9,183.2L255.4,183.4L255.9,182.3L256.4,182.0L256.9,182.5L257.4,181.6L257.9,181.7L258.4,180.8L258.9,180.0L259.4,180.3L259.9,180.4L260.4,180.7L260.9,180.6L261.4,179.5L261.9,178.7L262.4,177.3L262.9,177.4L263.4,176.1L263.9,175.6L264.4,174.7L264.9,174.0L265.4,174.4L265.9,173.8L266.4,175.7L266.9,175.0L267.4,176.6L267.9,175.3L268.4,174.8L268.9,175.6L269.4,174.8L269.9,176.1L270.4,176.1L270.9,176.6L271.4,177.8L271.9,177.1L272.4,177.3L272.9,178.1L273.4,178.5L273.9,180.3L274.4,181.0L274.9,181.3L275.4,182.8L275.9,182.4L276.4,183.8L276.9,184.1L277.4,183.9L277.9,184.7L278.4,186.4L278.9,187.1L279.4,186.3L279.9,187.0L280.4,188.2L280.9,187.9L281.4,189.3L281.9,189.0L282.4,188.6L282.9,189.3L283.4,190.0L283.9,190.2L284.4,190.9L284.9,190.4L285.4,191.6L285.9,191.1L286.4,191.7L286.9,191.9L287.4,191.8L287.9,192.1L288.4,193.0L288.9,193.5L289.4,193.5L289.9,193.4L290.4,193.1L290.9,192.8L291.4,194.3L291.9,194.1L292.4,194.4L292.9,193.9L293.4,194.5L293.9,195.1L294.4,195.1L294.9,194.9L295.4,194.6L295.9,194.8L296.4,195.4L296.9,195.0L297.4,195.4L297.9,195.5L298.4,195.8L298.9,195.9L299.4,195.6L299.9,195.4L300.4,195.6L300.9,195.8L301.4,195.9L301.9,196.1L302.4,196.1L302.9,195.6L303.4,196.1L303.9,196.1L304.4,196.2L304.9,196.0L305.4,195.8L305.9,196.2L306.4,196.2L306.9,196.2L307.4,196.3L307.9,196.0L308.4,195.9L308.9,196.2L309.4,196.3L309.9,196.0L310.4,196.3L310.9,196.5L311.4,196.1L311.9,196.3L312.4,196.4L312.9,196.3L313.4,196.2L313.9,196.3L314.4,196.5L314.9,196.5L315.4,196.4L315.9,196.3L316.4,196.6L316.9,196.6L317.4,196.4L317.9,196.5L318.4,196.6L318.9,196.6L319.4,196.5L319.9,196.5L320.4,196.5L320.9,196.4L321.4,196.4L321.9,196.4L322.4,196.6L322.9,196.5L323.4,196.5L323.9,196.5L324.4,196.5L324.9,196.4L325.4,196.4L325.9,196.7L326.4,196.5L326.9,196.4L327.4,196.6L327.9,196.6L328.4,196.4L328.9,196.6L329.4,196.5L329.9,196.5L330.4,196.4L330.9,196.4L331.4,196.7L331.9,196.7L332.4,196.5L332.9,196.6L333.4,196.5L333.9,196.6L334.4,196.5L334.9,196.7L335.4,196.6L335.9,196.6L336.4,196.7L336.9,196.5L337.4,196.4L337.9,196.4L338.4,196.4L338.9,196.4L339.4,196.4L339.9,196.6L340.4,196.7L340.9,196.5L341.4,196.7L341.9,196.7L342.4,196.4L342.9,196.6L343.4,196.5L343.9,196.4L344.4,196.7L344.9,196.5L345.4,196.6L345.9,196.6L346.4,196.7L346.9,196.6L347.4,196.5L347.9,196.6L348.4,196.5L348.9,196.7L349.4,196.7L349.9,196.5L350.4,196.4L350.9,196.5L351.4,196.5L351.9,196.7L352.4,196.7L352.9,196.7L353.4,196.5L353.9,196.7L354.4,196.7L354.9,196.6L355.4,196.7L355.9,196.5L356.4,196.5L356.9,196.7L357.4,196.7L357.9,196.7L358.4,196.5L358.9,196.6L359.4,196.7L359.9,196.5L360.4,196.5L360.9,196.5L361.4,196.4L361.9,196.5L362.4,196.3L362.9,196.2L363.4,196.2L363.9,196.3L364.4,196.0L364.9,196.3L365.4,196.0L365.9,196.0L366.4,196.4L366.9,196.0L367.4,196.4L367.9,196.3L368.4,196.3L368.9,195.9L369.4,196.1L369.9,195.9L370.4,196.3L370.9,196.3L371.4,196.1L371.9,196.0L372.4,195.9L372.9,196.2L373.4,196.0L373.9,196.1L374.4,195.8L374.9,195.8L375.4,195.8L375.9,196.2L376.4,196.1L376.9,195.9L377.4,196.3L377.9,196.0L378.4,196.1L378.9,196.0L379.4,196.1L379.9,196.4L380.4,196.3L380.9,196.2L381.4,196.4L381.9,196.4L382.4,196.6L382.9,196.4L383.4,196.7L383.9,196.4L384.4,196.7L384.9,196.6L385.4,196.5L385.9,196.6L386.4,196.6L386.9,196.5L387.4,196.5L387.9,196.6L388.4,196.8L388.9,196.8L389.4,196.8L389.9,196.6L390.4,196.6L390.9,196.8L391.4,196.6L391.9,196.8L392.4,196.7L392.9,196.8L393.4,196.6L393.9,196.8L394.4,196.7L394.9,196.7L395.4,196.7L395.9,196.9L396.4,196.8L396.9,196.7L397.4,196.8L397.9,196.9L398.4,196.8L398.9,196.9L399.4,196.8L399.9,196.8L400.4,196.9L400.9,196.9L401.4,196.9L401.9,196.9L402.4,196.9L402.9,196.9L403.4,196.9L403.9,196.9L404.4,197.0L404.9,197.0L405.4,197.0L405.9,197.0L406.4,197.0L406.9,197.0L407.4,197.0L407.5,197.2Z" fill="#656565" stroke="#151515" stroke-width="0.85" stroke-linejoin="round"/>
<rect x="253.4" y="162.6" width="154.6" height="34.599999999999994" fill="none" stroke="#787878" stroke-width="1.2"/>
<line x1="252.9" y1="197.2" x2="408.5" y2="197.2" stroke="#333" stroke-width="1.1"/>
<line x1="251.9" y1="188.5" x2="253.4" y2="188.5" stroke="#888" stroke-width="0.6"/>
<line x1="251.9" y1="179.9" x2="253.4" y2="179.9" stroke="#888" stroke-width="0.6"/>
<line x1="251.9" y1="171.2" x2="253.4" y2="171.2" stroke="#888" stroke-width="0.6"/>
<line x1="253.4" y1="197.2" x2="253.4" y2="199.0" stroke="#444" stroke-width="0.6"/>
<text x="251.6" y="204.0" font-size="5" font-weight="bold" fill="#3a3a3a">1<tspan font-size="3.2" dy="-2.2">0</tspan></text>
<line x1="292.1" y1="197.2" x2="292.1" y2="199.0" stroke="#444" stroke-width="0.6"/>
<text x="286.9" y="204.2" font-size="5" font-weight="bold" fill="#3a3a3a">10<tspan font-size="3.2" dy="-2.2">1</tspan></text>
<line x1="330.7" y1="197.2" x2="330.7" y2="199.0" stroke="#444" stroke-width="0.6"/>
<text x="325.5" y="204.2" font-size="5" font-weight="bold" fill="#3a3a3a">10<tspan font-size="3.2" dy="-2.2">2</tspan></text>
<line x1="369.4" y1="197.2" x2="369.4" y2="199.0" stroke="#444" stroke-width="0.6"/>
<text x="364.2" y="204.2" font-size="5" font-weight="bold" fill="#3a3a3a">10<tspan font-size="3.2" dy="-2.2">3</tspan></text>
<line x1="408.0" y1="197.2" x2="408.0" y2="199.0" stroke="#444" stroke-width="0.6"/>
<text x="402.8" y="204.2" font-size="5" font-weight="bold" fill="#3a3a3a">10<tspan font-size="3.2" dy="-2.2">4</tspan></text>
<line x1="337.9" y1="179.8" x2="337.9" y2="162.6" stroke="#333" stroke-width="1"/>
<text x="339.5" y="167.6" font-size="4.4" font-weight="bold" fill="#333">R9</text>
<text x="404" y="174.1" font-size="7.4" font-weight="bold" fill="#111" stroke="#111" stroke-width="0.35" text-anchor="end" textLength="21.8" lengthAdjust="spacingAndGlyphs">1.21%</text>
<path d="M79.8,244.2L79.8,244.1L80.3,244.1L80.8,244.1L81.3,244.1L81.8,244.1L82.3,244.1L82.8,244.1L83.3,244.0L83.8,244.0L84.3,244.0L84.8,244.0L85.3,244.0L85.8,244.0L86.3,244.0L86.8,244.0L87.3,244.0L87.8,244.0L88.3,243.9L88.8,243.9L89.3,243.9L89.8,243.9L90.3,243.9L90.8,243.9L91.3,243.9L91.8,243.9L92.3,243.9L92.8,243.9L93.3,243.9L93.8,243.8L94.3,243.9L94.8,243.8L95.3,243.9L95.8,243.7L96.3,243.9L96.8,243.9L97.3,243.8L97.8,243.8L98.3,243.7L98.8,243.7L99.3,243.6L99.8,243.8L100.3,243.6L100.8,243.6L101.3,243.5L101.8,243.5L102.3,243.7L102.8,243.4L103.3,243.3L103.8,243.5L104.3,243.3L104.8,243.1L105.3,243.3L105.8,243.3L106.3,243.2L106.8,243.3L107.3,242.9L107.8,243.3L108.3,243.2L108.8,242.7L109.3,242.6L109.8,242.7L110.3,242.6L110.8,242.2L111.3,241.9L111.8,242.0L112.3,241.6L112.8,242.0L113.3,242.3L113.8,241.3L114.3,241.7L114.8,241.8L115.3,240.9L115.8,241.7L116.3,241.7L116.8,240.7L117.3,240.5L117.8,241.0L118.3,240.4L118.8,240.1L119.3,240.9L119.8,240.5L120.3,239.6L120.8,239.3L121.3,239.2L121.8,239.2L122.3,239.9L122.8,239.5L123.3,239.7L123.8,239.5L124.3,239.4L124.8,238.2L125.3,238.8L125.8,239.4L126.3,239.3L126.8,238.2L127.3,238.4L127.8,238.7L128.3,238.4L128.8,238.8L129.3,238.2L129.8,238.8L130.3,239.0L130.8,238.3L131.3,238.6L131.8,240.0L132.3,239.9L132.8,240.4L133.3,240.2L133.8,240.7L134.3,241.0L134.8,241.1L135.3,240.0L135.8,241.0L136.3,240.6L136.8,241.3L137.3,240.9L137.8,241.5L138.3,242.2L138.8,241.9L139.3,241.7L139.8,242.1L140.3,242.1L140.8,242.7L141.3,242.1L141.8,242.2L142.3,242.6L142.8,242.2L143.3,242.7L143.8,243.1L144.3,242.8L144.8,242.7L145.3,242.9L145.8,243.1L146.3,242.9L146.8,242.9L147.3,242.9L147.8,243.0L148.3,243.1L148.8,243.1L149.3,243.1L149.8,243.1L150.3,243.3L150.8,243.5L151.3,243.4L151.8,243.4L152.3,243.5L152.8,243.4L153.3,243.6L153.8,243.5L154.3,243.6L154.8,243.6L155.3,243.6L155.8,243.6L156.3,243.6L156.8,243.6L157.3,243.7L157.8,243.7L158.3,243.7L158.8,243.6L159.3,243.6L159.8,243.8L160.3,243.6L160.8,243.7L161.3,243.7L161.8,243.6L162.3,243.8L162.8,243.6L163.3,243.7L163.8,243.5L164.3,243.5L164.8,243.7L165.3,243.6L165.8,243.5L166.3,243.6L166.8,243.6L167.3,243.7L167.8,243.5L168.3,243.5L168.8,243.7L169.3,243.6L169.8,243.3L170.3,243.3L170.8,243.2L171.3,243.3L171.8,243.2L172.3,243.3L172.8,243.2L173.3,242.9L173.8,243.0L174.3,243.0L174.8,242.9L175.3,242.7L175.8,242.8L176.3,242.6L176.8,242.7L177.3,241.7L177.8,242.3L178.3,241.1L178.8,241.9L179.3,241.5L179.8,241.3L180.3,241.9L180.8,241.2L181.3,240.7L181.8,241.1L182.3,241.0L182.8,240.4L183.3,239.9L183.8,239.9L184.3,239.7L184.8,239.7L185.3,238.6L185.8,238.3L186.3,238.1L186.8,237.4L187.3,237.1L187.8,237.5L188.3,237.1L188.8,236.0L189.3,235.2L189.8,234.1L190.3,233.6L190.8,232.9L191.3,233.2L191.8,232.8L192.3,231.5L192.8,232.0L193.3,230.4L193.8,230.5L194.3,229.8L194.8,229.6L195.3,228.2L195.8,228.3L196.3,228.6L196.8,226.9L197.3,226.6L197.8,227.1L198.3,226.8L198.8,227.2L199.3,226.7L199.8,226.0L200.3,226.4L200.8,225.5L201.3,225.2L201.8,225.0L202.3,224.1L202.8,223.7L203.3,223.9L203.8,223.7L204.3,224.7L204.8,224.5L205.3,224.4L205.8,223.9L206.3,224.9L206.8,225.7L207.3,226.7L207.8,227.4L208.3,228.2L208.8,228.9L209.3,229.0L209.8,229.7L210.3,230.5L210.8,231.5L211.3,231.1L211.8,232.1L212.3,233.4L212.8,233.0L213.3,233.6L213.8,235.0L214.3,235.3L214.8,235.4L215.3,235.2L215.8,236.7L216.3,236.6L216.8,237.1L217.3,237.6L217.8,237.7L218.3,237.1L218.8,236.8L219.3,237.0L219.8,237.4L220.3,237.4L220.8,237.0L221.3,237.0L221.8,237.7L222.3,237.6L222.8,237.0L223.3,237.8L223.8,237.1L224.3,236.0L224.8,236.4L225.3,236.9L225.8,236.1L226.3,236.5L226.8,235.3L227.3,235.6L227.8,236.3L228.3,235.8L228.8,235.9L229.3,235.2L229.8,235.8L230.3,236.0L230.8,235.7L231.3,236.4L231.8,236.3L232.3,237.1L232.8,236.7L233.3,236.7L233.8,236.5L234.3,236.8L234.8,237.8L235.3,237.0L235.8,237.0L236.3,237.3L236.8,238.0L237.2,244.2Z" fill="#656565" stroke="#151515" stroke-width="0.85" stroke-linejoin="round"/>
<rect x="79.3" y="212.6" width="158.39999999999998" height="31.599999999999994" fill="none" stroke="#787878" stroke-width="1.2"/>
<line x1="78.8" y1="244.2" x2="238.2" y2="244.2" stroke="#333" stroke-width="1.1"/>
<line x1="77.8" y1="236.3" x2="79.3" y2="236.3" stroke="#888" stroke-width="0.6"/>
<line x1="77.8" y1="228.4" x2="79.3" y2="228.4" stroke="#888" stroke-width="0.6"/>
<line x1="77.8" y1="220.5" x2="79.3" y2="220.5" stroke="#888" stroke-width="0.6"/>
<line x1="79.3" y1="244.2" x2="79.3" y2="246.0" stroke="#444" stroke-width="0.6"/>
<text x="77.5" y="251.0" font-size="5" font-weight="bold" fill="#3a3a3a">1<tspan font-size="3.2" dy="-2.2">0</tspan></text>
<line x1="118.9" y1="244.2" x2="118.9" y2="246.0" stroke="#444" stroke-width="0.6"/>
<text x="113.7" y="251.2" font-size="5" font-weight="bold" fill="#3a3a3a">10<tspan font-size="3.2" dy="-2.2">1</tspan></text>
<line x1="158.5" y1="244.2" x2="158.5" y2="246.0" stroke="#444" stroke-width="0.6"/>
<text x="153.3" y="251.2" font-size="5" font-weight="bold" fill="#3a3a3a">10<tspan font-size="3.2" dy="-2.2">2</tspan></text>
<line x1="198.1" y1="244.2" x2="198.1" y2="246.0" stroke="#444" stroke-width="0.6"/>
<text x="192.9" y="251.2" font-size="5" font-weight="bold" fill="#3a3a3a">10<tspan font-size="3.2" dy="-2.2">3</tspan></text>
<line x1="237.7" y1="244.2" x2="237.7" y2="246.0" stroke="#444" stroke-width="0.6"/>
<text x="232.5" y="251.2" font-size="5" font-weight="bold" fill="#3a3a3a">10<tspan font-size="3.2" dy="-2.2">4</tspan></text>
<line x1="163.7" y1="230.8" x2="163.7" y2="212.6" stroke="#333" stroke-width="1"/>
<text x="165.3" y="217.6" font-size="4.4" font-weight="bold" fill="#333">R6</text>
<text x="235.6" y="222.6" font-size="7.4" font-weight="bold" fill="#111" stroke="#111" stroke-width="0.35" text-anchor="end" textLength="26.4" lengthAdjust="spacingAndGlyphs">69.03%</text>
<path d="M253.9,245.8L253.9,245.8L254.4,245.8L254.9,245.8L255.4,245.8L255.9,245.8L256.4,245.8L256.9,245.8L257.4,245.8L257.9,245.8L258.4,245.8L258.9,245.8L259.4,245.8L259.9,245.8L260.4,245.8L260.9,245.8L261.4,245.8L261.9,245.8L262.4,245.8L262.9,245.8L263.4,245.8L263.9,245.8L264.4,245.7L264.9,245.7L265.4,245.7L265.9,245.7L266.4,245.7L266.9,245.7L267.4,245.7L267.9,245.7L268.4,245.7L268.9,245.7L269.4,245.7L269.9,245.7L270.4,245.7L270.9,245.7L271.4,245.7L271.9,245.7L272.4,245.7L272.9,245.7L273.4,245.7L273.9,245.7L274.4,245.7L274.9,245.7L275.4,245.7L275.9,245.7L276.4,245.7L276.9,245.7L277.4,245.7L277.9,245.7L278.4,245.7L278.9,245.7L279.4,245.6L279.9,245.6L280.4,245.6L280.9,245.6L281.4,245.6L281.9,245.6L282.4,245.6L282.9,245.6L283.4,245.6L283.9,245.6L284.4,245.6L284.9,245.6L285.4,245.6L285.9,245.6L286.4,245.6L286.9,245.6L287.4,245.6L287.9,245.6L288.4,245.6L288.9,245.6L289.4,245.6L289.9,245.6L290.4,245.6L290.9,245.6L291.4,245.5L291.9,245.5L292.4,245.4L292.9,245.5L293.4,245.3L293.9,245.4L294.4,245.3L294.9,245.2L295.4,245.2L295.9,245.1L296.4,245.2L296.9,245.0L297.4,245.2L297.9,245.0L298.4,244.9L298.9,244.8L299.4,245.0L299.9,244.8L300.4,245.1L300.9,244.7L301.4,244.9L301.9,244.9L302.4,244.8L302.9,245.0L303.4,244.8L303.9,244.9L304.4,244.8L304.9,244.7L305.4,244.7L305.9,244.6L306.4,244.6L306.9,244.9L307.4,244.6L307.9,244.8L308.4,244.5L308.9,244.7L309.4,244.6L309.9,244.7L310.4,244.6L310.9,244.5L311.4,244.6L311.9,244.5L312.4,244.5L312.9,244.8L313.4,244.5L313.9,244.6L314.4,244.9L314.9,244.8L315.4,244.9L315.9,244.8L316.4,244.4L316.9,244.5L317.4,244.3L317.9,244.7L318.4,244.7L318.9,244.5L319.4,244.6L319.9,244.7L320.4,244.7L320.9,244.5L321.4,244.8L321.9,244.6L322.4,244.7L322.9,244.5L323.4,244.5L323.9,244.9L324.4,244.9L324.9,244.9L325.4,244.5L325.9,244.6L326.4,244.6L326.9,244.7L327.4,244.7L327.9,244.8L328.4,244.7L328.9,244.8L329.4,245.0L329.9,244.8L330.4,245.1L330.9,244.9L331.4,245.0L331.9,244.8L332.4,244.9L332.9,245.0L333.4,244.9L333.9,244.7L334.4,245.1L334.9,245.0L335.4,244.8L335.9,244.7L336.4,245.1L336.9,245.0L337.4,244.8L337.9,244.8L338.4,244.8L338.9,245.1L339.4,244.8L339.9,245.1L340.4,245.1L340.9,244.8L341.4,245.1L341.9,244.9L342.4,245.1L342.9,245.1L343.4,244.9L343.9,244.8L344.4,245.2L344.9,245.0L345.4,245.2L345.9,245.1L346.4,245.1L346.9,245.1L347.4,245.0L347.9,244.9L348.4,244.7L348.9,245.0L349.4,244.8L349.9,244.8L350.4,245.0L350.9,244.6L351.4,244.9L351.9,244.5L352.4,244.9L352.9,244.9L353.4,244.4L353.9,244.4L354.4,244.6L354.9,244.2L355.4,244.0L355.9,243.6L356.4,243.2L356.9,243.3L357.4,243.0L357.9,242.4L358.4,242.1L358.9,241.5L359.4,242.1L359.9,241.8L360.4,241.0L360.9,240.7L361.4,240.8L361.9,240.3L362.4,240.7L362.9,239.5L363.4,239.2L363.9,239.9L364.4,238.2L364.9,238.2L365.4,237.0L365.9,236.9L366.4,235.7L366.9,235.3L367.4,234.0L367.9,234.4L368.4,233.7L368.9,232.8L369.4,232.6L369.9,231.9L370.4,230.2L370.9,229.9L371.4,229.7L371.9,229.1L372.4,228.4L372.9,228.1L373.4,227.3L373.9,227.5L374.4,226.6L374.9,225.7L375.4,225.8L375.9,225.6L376.4,225.0L376.9,224.2L377.4,223.8L377.9,223.8L378.4,225.5L378.9,225.5L379.4,224.8L379.9,225.9L380.4,226.6L380.9,226.5L381.4,226.5L381.9,227.6L382.4,227.9L382.9,228.0L383.4,229.2L383.9,229.2L384.4,231.3L384.9,231.4L385.4,231.9L385.9,233.1L386.4,233.6L386.9,233.9L387.4,234.5L387.9,234.7L388.4,235.0L388.9,236.7L389.4,237.3L389.9,236.9L390.4,236.8L390.9,237.6L391.4,238.1L391.9,238.3L392.4,237.2L392.9,238.0L393.4,237.8L393.9,237.2L394.4,236.3L394.9,235.8L395.4,236.7L395.9,235.7L396.4,235.6L396.9,235.7L397.4,235.2L397.9,235.7L398.4,234.7L398.9,234.3L399.4,234.8L399.9,234.5L400.4,234.4L400.9,233.9L401.4,234.2L401.9,234.4L402.4,234.1L402.9,234.3L403.4,234.0L403.9,234.6L404.4,235.5L404.9,235.2L405.4,236.4L405.9,235.8L406.4,236.5L406.9,237.5L407.4,236.4L407.5,245.8Z" fill="#656565" stroke="#151515" stroke-width="0.85" stroke-linejoin="round"/>
<rect x="253.4" y="212.9" width="154.6" height="32.900000000000006" fill="none" stroke="#787878" stroke-width="1.2"/>
<line x1="252.9" y1="245.8" x2="408.5" y2="245.8" stroke="#333" stroke-width="1.1"/>
<line x1="251.9" y1="237.6" x2="253.4" y2="237.6" stroke="#888" stroke-width="0.6"/>
<line x1="251.9" y1="229.4" x2="253.4" y2="229.4" stroke="#888" stroke-width="0.6"/>
<line x1="251.9" y1="221.1" x2="253.4" y2="221.1" stroke="#888" stroke-width="0.6"/>
<line x1="253.4" y1="245.8" x2="253.4" y2="247.60000000000002" stroke="#444" stroke-width="0.6"/>
<text x="251.6" y="252.6" font-size="5" font-weight="bold" fill="#3a3a3a">1<tspan font-size="3.2" dy="-2.2">0</tspan></text>
<line x1="292.1" y1="245.8" x2="292.1" y2="247.60000000000002" stroke="#444" stroke-width="0.6"/>
<text x="286.9" y="252.8" font-size="5" font-weight="bold" fill="#3a3a3a">10<tspan font-size="3.2" dy="-2.2">1</tspan></text>
<line x1="330.7" y1="245.8" x2="330.7" y2="247.60000000000002" stroke="#444" stroke-width="0.6"/>
<text x="325.5" y="252.8" font-size="5" font-weight="bold" fill="#3a3a3a">10<tspan font-size="3.2" dy="-2.2">2</tspan></text>
<line x1="369.4" y1="245.8" x2="369.4" y2="247.60000000000002" stroke="#444" stroke-width="0.6"/>
<text x="364.2" y="252.8" font-size="5" font-weight="bold" fill="#3a3a3a">10<tspan font-size="3.2" dy="-2.2">3</tspan></text>
<line x1="408.0" y1="245.8" x2="408.0" y2="247.60000000000002" stroke="#444" stroke-width="0.6"/>
<text x="402.8" y="252.8" font-size="5" font-weight="bold" fill="#3a3a3a">10<tspan font-size="3.2" dy="-2.2">4</tspan></text>
<line x1="335.4" y1="231.7" x2="335.4" y2="212.9" stroke="#333" stroke-width="1"/>
<text x="337.0" y="217.9" font-size="4.4" font-weight="bold" fill="#333">R6</text>
<text x="404.4" y="221.6" font-size="7.4" font-weight="bold" fill="#111" stroke="#111" stroke-width="0.35" text-anchor="end" textLength="26.5" lengthAdjust="spacingAndGlyphs">88.45%</text>
<text x="0.8" y="285" font-size="17.8" font-weight="bold" text-anchor="start" fill="#111" stroke="#111" stroke-width="0.25" >B</text>
<line x1="41.3" y1="339.5" x2="41.3" y2="443" stroke="#777" stroke-width="1"/>
<line x1="37.8" y1="339.5" x2="41.3" y2="339.5" stroke="#777" stroke-width="1"/>
<line x1="37.8" y1="373" x2="41.3" y2="373" stroke="#777" stroke-width="1"/>
<line x1="37.8" y1="406.4" x2="41.3" y2="406.4" stroke="#777" stroke-width="1"/>
<line x1="38.5" y1="440.1" x2="237.5" y2="440.1" stroke="#444" stroke-width="1.6"/>
<line x1="90.4" y1="440" x2="90.4" y2="443" stroke="#777" stroke-width="1"/>
<line x1="139.6" y1="440" x2="139.6" y2="443" stroke="#777" stroke-width="1"/>
<line x1="188.8" y1="440" x2="188.8" y2="443" stroke="#777" stroke-width="1"/>
<line x1="237.5" y1="440" x2="237.5" y2="443" stroke="#777" stroke-width="1"/>
<text x="32.0" y="343" font-size="9.8" font-weight="bold" text-anchor="end" fill="#111" stroke="#111" stroke-width="0.25" >0.6</text>
<text x="32.0" y="376.6" font-size="9.8" font-weight="bold" text-anchor="end" fill="#111" stroke="#111" stroke-width="0.25" >0.4</text>
<text x="32.0" y="409.8" font-size="9.8" font-weight="bold" text-anchor="end" fill="#111" stroke="#111" stroke-width="0.25" >0.2</text>
<text x="32.0" y="443" font-size="9.8" font-weight="bold" text-anchor="end" fill="#111" stroke="#111" stroke-width="0.25" >0</text>
<text x="65.7" y="458.3" font-size="9.8" font-weight="bold" text-anchor="middle" fill="#111" stroke="#111" stroke-width="0.25" >0</text>
<text x="114.7" y="458.3" font-size="9.8" font-weight="bold" text-anchor="middle" fill="#111" stroke="#111" stroke-width="0.25" >100</text>
<text x="164.2" y="458.3" font-size="9.8" font-weight="bold" text-anchor="middle" fill="#111" stroke="#111" stroke-width="0.25" >500</text>
<text x="212.4" y="458.3" font-size="9.8" font-weight="bold" text-anchor="middle" fill="#111" stroke="#111" stroke-width="0.25" >1000</text>
<text x="142.2" y="476.3" font-size="9.8" font-weight="bold" text-anchor="middle" fill="#111" stroke="#111" stroke-width="0.25" >Ovalbumin (µg)</text>
<text transform="translate(10.4,386.8) rotate(-90)" font-size="8.7" font-weight="bold" text-anchor="middle" fill="#111" stroke="#111" stroke-width="0.25">O.D. 450nm</text>
<text x="145.2" y="311" font-size="10.8" font-weight="bold" text-anchor="middle" fill="#111" stroke="#111" stroke-width="0.25" >γ-IFN</text>
<line x1="114.8" y1="365.7" x2="114.8" y2="347.5" stroke="#111" stroke-width="1.6"/>
<line x1="113.0" y1="347.5" x2="116.6" y2="347.5" stroke="#111" stroke-width="1"/>
<line x1="163.4" y1="370.9" x2="163.4" y2="359.5" stroke="#111" stroke-width="1.6"/>
<line x1="161.6" y1="359.5" x2="165.20000000000002" y2="359.5" stroke="#111" stroke-width="1"/>
<line x1="212.7" y1="347.7" x2="212.7" y2="340.2" stroke="#111" stroke-width="1.1"/>
<line x1="114.8" y1="413" x2="114.8" y2="410.2" stroke="#111" stroke-width="1.2"/>
<line x1="113.0" y1="410.2" x2="116.6" y2="410.2" stroke="#111" stroke-width="1"/>
<line x1="163.4" y1="393" x2="163.4" y2="379.5" stroke="#111" stroke-width="1.6"/>
<line x1="161.6" y1="379.5" x2="165.20000000000002" y2="379.5" stroke="#111" stroke-width="1"/>
<line x1="212.7" y1="400.5" x2="212.7" y2="395" stroke="#111" stroke-width="1.2"/>
<line x1="210.89999999999998" y1="395" x2="214.5" y2="395" stroke="#111" stroke-width="1"/>
<polyline points="65.7,431.0 114.8,365.7 163.4,370.9 212.7,347.7" fill="none" stroke="#333" stroke-width="1"/>
<polyline points="65.7,431.0 114.8,413 163.4,393 212.7,400.5" fill="none" stroke="#444" stroke-width="1"/>
<circle cx="114.8" cy="365.7" r="2.3" fill="#000"/>
<circle cx="163.4" cy="370.9" r="2.3" fill="#000"/>
<circle cx="212.7" cy="347.7" r="2.3" fill="#000"/>
<path d="M114.8,410.60 L116.78,414.60 L112.82,414.60Z" fill="#fff" stroke="#1a1a1a" stroke-width="0.8"/>
<path d="M163.4,390.60 L165.38,394.60 L161.42,394.60Z" fill="#fff" stroke="#1a1a1a" stroke-width="0.8"/>
<path d="M212.7,398.10 L214.68,402.10 L210.72,402.10Z" fill="#fff" stroke="#1a1a1a" stroke-width="0.8"/>
<circle cx="65.7" cy="431.0" r="2.2" fill="#fff" stroke="#111" stroke-width="1.1"/>
<line x1="226.5" y1="409.1" x2="246" y2="409.1" stroke="#333" stroke-width="1"/>
<circle cx="236.1" cy="409.1" r="2.1" fill="#000"/>
<text x="248.3" y="411.8" font-size="7.1" font-weight="normal" text-anchor="start" fill="#222" >WT</text>
<line x1="226.5" y1="425.6" x2="246" y2="425.6" stroke="#444" stroke-width="0.9"/>
<path d="M236.1,423.05 L238.21,427.30 L233.99,427.30Z" fill="#fff" stroke="#1a1a1a" stroke-width="0.8"/>
<text x="248.3" y="427.9" font-size="7.1" font-weight="normal" text-anchor="start" fill="#222" >KO</text>
<line x1="314.3" y1="350.5" x2="314.3" y2="445" stroke="#555" stroke-width="1"/>
<line x1="311" y1="350.5" x2="314.3" y2="350.5" stroke="#555" stroke-width="1"/>
<line x1="311" y1="380.3" x2="314.3" y2="380.3" stroke="#555" stroke-width="1"/>
<line x1="311" y1="411.1" x2="314.3" y2="411.1" stroke="#555" stroke-width="1"/>
<line x1="311" y1="441.5" x2="515.5" y2="441.5" stroke="#444" stroke-width="1.2"/>
<line x1="364.2" y1="441.5" x2="364.2" y2="445" stroke="#555" stroke-width="1"/>
<line x1="414.6" y1="441.5" x2="414.6" y2="445" stroke="#555" stroke-width="1"/>
<line x1="465.1" y1="441.5" x2="465.1" y2="445" stroke="#555" stroke-width="1"/>
<line x1="515.5" y1="441.5" x2="515.5" y2="445" stroke="#555" stroke-width="1"/>
<text x="304.8" y="353.5" font-size="9.5" font-weight="bold" text-anchor="end" fill="#111" stroke="#111" stroke-width="0.25" >0.1</text>
<text x="304.8" y="384" font-size="9.5" font-weight="bold" text-anchor="end" fill="#111" stroke="#111" stroke-width="0.25" >0.08</text>
<text x="304.8" y="414.7" font-size="9.5" font-weight="bold" text-anchor="end" fill="#111" stroke="#111" stroke-width="0.25" >0.06</text>
<text x="304.8" y="445.2" font-size="9.5" font-weight="bold" text-anchor="end" fill="#111" stroke="#111" stroke-width="0.25" >0.04</text>
<text x="339.3" y="460.0" font-size="9.8" font-weight="bold" text-anchor="middle" fill="#111" stroke="#111" stroke-width="0.25" >0</text>
<text x="389.8" y="460.0" font-size="9.8" font-weight="bold" text-anchor="middle" fill="#111" stroke="#111" stroke-width="0.25" >100</text>
<text x="439.8" y="460.0" font-size="9.8" font-weight="bold" text-anchor="middle" fill="#111" stroke="#111" stroke-width="0.25" >200</text>
<text x="489.8" y="460.0" font-size="9.8" font-weight="bold" text-anchor="middle" fill="#111" stroke="#111" stroke-width="0.25" >500</text>
<text x="407.7" y="478.4" font-size="9.8" font-weight="bold" text-anchor="middle" fill="#111" stroke="#111" stroke-width="0.25" >Ovalbumin (µg)</text>
<text x="407" y="315.6" font-size="11.2" font-weight="bold" text-anchor="middle" fill="#111" stroke="#111" stroke-width="0.25" >IL-2</text>
<text x="464.8" y="329.8" font-size="11" font-weight="bold" fill="#111" stroke="#111" stroke-width="0.25"><tspan font-style="italic">P</tspan> = .0008</text>
<text x="480.6" y="348.2" font-size="16" font-weight="bold" text-anchor="start" fill="#111" stroke="#111" stroke-width="0.25" >***</text>
<line x1="339.3" y1="425.7" x2="339.3" y2="418.4" stroke="#111" stroke-width="1.2"/>
<line x1="337.5" y1="418.4" x2="341.1" y2="418.4" stroke="#111" stroke-width="1"/>
<line x1="389.8" y1="374.1" x2="389.8" y2="370.7" stroke="#111" stroke-width="1.2"/>
<line x1="388.0" y1="370.7" x2="391.6" y2="370.7" stroke="#111" stroke-width="1"/>
<line x1="339.3" y1="433.2" x2="339.3" y2="430" stroke="#111" stroke-width="1.0"/>
<line x1="337.5" y1="430" x2="341.1" y2="430" stroke="#111" stroke-width="1"/>
<line x1="440" y1="387.5" x2="440" y2="382.7" stroke="#111" stroke-width="1.2"/>
<line x1="438.2" y1="382.7" x2="441.8" y2="382.7" stroke="#111" stroke-width="1"/>
<polyline points="339.3,425.7 389.8,374.1 440,360.7 489.8,352.7" fill="none" stroke="#333" stroke-width="1"/>
<polyline points="339.3,433.2 389.8,418.4 440,387.5 489.8,390.9" fill="none" stroke="#444" stroke-width="1"/>
<circle cx="339.3" cy="425.7" r="2.2" fill="#000"/>
<circle cx="389.8" cy="374.1" r="2.2" fill="#000"/>
<circle cx="440" cy="360.7" r="2.2" fill="#000"/>
<circle cx="489.8" cy="352.7" r="2.2" fill="#000"/>
<path d="M339.3,430.57 L341.47,434.95 L337.13,434.95Z" fill="#fff" stroke="#1a1a1a" stroke-width="0.9"/>
<path d="M389.8,415.77 L391.97,420.15 L387.63,420.15Z" fill="#fff" stroke="#1a1a1a" stroke-width="0.9"/>
<path d="M440,384.88 L442.17,389.25 L437.83,389.25Z" fill="#fff" stroke="#1a1a1a" stroke-width="0.9"/>
<path d="M489.8,388.27 L491.97,392.65 L487.63,392.65Z" fill="#fff" stroke="#1a1a1a" stroke-width="0.9"/>
<line x1="473.5" y1="409.5" x2="493.1" y2="409.5" stroke="#333" stroke-width="1"/>
<circle cx="483.6" cy="409.5" r="1.6" fill="#000"/>
<text x="495.3" y="411.8" font-size="6" font-weight="normal" text-anchor="start" fill="#222" >WT</text>
<line x1="473.5" y1="420.8" x2="493.1" y2="420.8" stroke="#555" stroke-width="0.8"/>
<path d="M483.6,419.07 L485.03,421.95 L482.17,421.95Z" fill="#fff" stroke="#1a1a1a" stroke-width="0.8"/>
<text x="495.3" y="422.7" font-size="6" font-weight="normal" text-anchor="start" fill="#222" >KO</text>
</svg></body></html>
